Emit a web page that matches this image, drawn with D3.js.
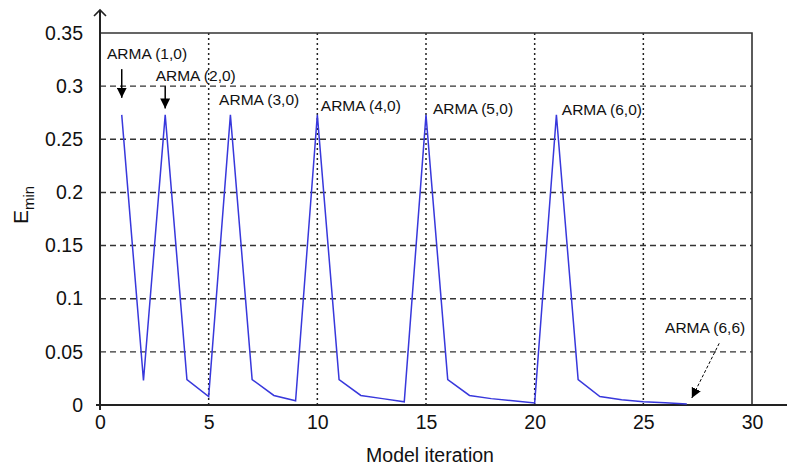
<!DOCTYPE html>
<html>
<head>
<meta charset="utf-8">
<script src="https://cdn.jsdelivr.net/npm/d3@7"></script>
<style>
  body { margin: 0; background: #fff; }
  svg text { font-family: "Liberation Sans", Arial, Helvetica, sans-serif; fill: #111; }
</style>
</head>
<body>
<div id="chart"></div>
<script>
// donnees
const iterations = [1, 2, 3, 4, 5, 6, 7, 8, 9, 10, 11, 12, 13, 14, 15, 16, 17, 18, 19, 20, 21, 22, 23, 24, 25, 26, 27];
const eMin = [0.273, 0.023, 0.273, 0.024, 0.008, 0.273, 0.024, 0.009, 0.004, 0.273, 0.024, 0.009, 0.006, 0.003,
              0.273, 0.024, 0.009, 0.006, 0.004, 0.002, 0.273, 0.024, 0.008, 0.005, 0.003, 0.002, 0.001];

const xTicks = [0, 5, 10, 15, 20, 25, 30];
const yTicks = [0, 0.05, 0.1, 0.15, 0.2, 0.25, 0.3, 0.35];
const yTickLabels = ["0", "0.05", "0.1", "0.15", "0.2", "0.25", "0.3", "0.35"];

// annotations (texte + position en unites du graphique)
const annotLabels = ["ARMA (1,0)", "ARMA (2,0)", "ARMA (3,0)", "ARMA (4,0)", "ARMA (5,0)", "ARMA (6,0)", "ARMA (6,6)"];
const annotX = [0.32, 2.56, 5.48, 10.16, 15.32, 21.25, 26.0];
const annotY = [0.329, 0.3086, 0.2863, 0.2807, 0.2776, 0.2769, 0.0712];
// fleches : depart -> arrivee
const arrowFrom = [[1.0, 0.316], [3.0, 0.300], [28.49, 0.058]];
const arrowTo = [[1.0, 0.289], [3.0, 0.279], [27.23, 0.0066]];

const W = 787, H = 469;
const x0 = 100, x1 = 752, yTop = 33, yBot = 405;

const svg = d3.select("#chart").append("svg")
  .attr("width", W).attr("height", H);

const defs = svg.append("defs");
defs.append("marker")
  .attr("id", "head")
  .attr("viewBox", "0 0 10 10")
  .attr("refX", 10).attr("refY", 5)
  .attr("markerWidth", 10).attr("markerHeight", 10)
  .attr("markerUnits", "userSpaceOnUse")
  .attr("orient", "auto")
  .append("path").attr("d", "M0,0 L10,5 L0,10 Z").attr("fill", "#000");

const x = d3.scaleLinear().domain([0, 30]).range([x0, x1]);
const y = d3.scaleLinear().domain([0, 0.35]).range([yBot, yTop]);

// grille horizontale (tirets)
svg.append("g").selectAll("line")
  .data(yTicks.filter(d => d > 0 && d < 0.35))
  .join("line")
  .attr("x1", x0).attr("x2", x1)
  .attr("y1", d => y(d)).attr("y2", d => y(d))
  .attr("stroke", "#333").attr("stroke-width", 1.4)
  .attr("stroke-dasharray", "6,4");

// grille verticale (pointilles)
svg.append("g").selectAll("line")
  .data(xTicks.filter(d => d > 0 && d < 30))
  .join("line")
  .attr("x1", d => x(d)).attr("x2", d => x(d))
  .attr("y1", yTop).attr("y2", yBot)
  .attr("stroke", "#222").attr("stroke-width", 1.5)
  .attr("stroke-dasharray", "2,3");

// cadre haut + droite
svg.append("path")
  .attr("d", `M${x0},${yTop} H${x1} V${yBot}`)
  .attr("fill", "none").attr("stroke", "#333").attr("stroke-width", 1.6);

// axe x (prolonge a droite)
svg.append("line")
  .attr("x1", x0 - 4).attr("x2", W).attr("y1", yBot).attr("y2", yBot)
  .attr("stroke", "#222").attr("stroke-width", 2);

// axe y avec fleche ouverte
svg.append("line")
  .attr("x1", x0).attr("x2", x0).attr("y1", yBot + 5).attr("y2", 11)
  .attr("stroke", "#222").attr("stroke-width", 2);
svg.append("path")
  .attr("d", `M${x0 - 6},${16} L${x0},${10} L${x0 + 6},${16}`)
  .attr("fill", "none").attr("stroke", "#222").attr("stroke-width", 1.6);

// etiquettes axe y
svg.append("g")
  .attr("transform", `translate(${x0 - 17},0)`)
  .call(d3.axisLeft(y).tickValues(yTicks).tickFormat((d, i) => yTickLabels[i]).tickSize(0))
  .call(g => g.select(".domain").remove())
  .selectAll("text")
  .attr("x", 0)
  .style("font-size", "19.5px")
  .style("font-family", "'Liberation Sans', Arial, sans-serif")
  .attr("fill", "#111");

// etiquettes axe x
svg.append("g")
  .attr("transform", `translate(0,${yBot + 7})`)
  .call(d3.axisBottom(x).tickValues(xTicks).tickFormat(d3.format("d")).tickSize(0))
  .call(g => g.select(".domain").remove())
  .selectAll("text")
  .style("font-size", "19.5px")
  .style("font-family", "'Liberation Sans', Arial, sans-serif")
  .attr("fill", "#111");

// titres des axes
svg.append("text")
  .attr("x", (x0 + x1) / 2 + 4).attr("y", 462)
  .attr("text-anchor", "middle")
  .style("font-size", "19.5px")
  .text("Model iteration");

const yl = svg.append("text")
  .attr("transform", "translate(28,205) rotate(-90)")
  .attr("text-anchor", "middle")
  .style("font-size", "21px");
yl.append("tspan").text("E");
yl.append("tspan").attr("dy", 6).style("font-size", "15px").text("min");

// courbe
const line = d3.line()
  .x((d, i) => x(iterations[i]))
  .y(d => y(d));

svg.append("path")
  .datum(eMin)
  .attr("d", line)
  .attr("fill", "none")
  .attr("stroke", "#3838dc")
  .attr("stroke-width", 1.5);

// annotations
svg.append("g").selectAll("text")
  .data(annotLabels)
  .join("text")
  .attr("x", (d, i) => x(annotX[i]))
  .attr("y", (d, i) => y(annotY[i]))
  .attr("dominant-baseline", "middle")
  .style("font-size", "15.5px")
  .text(d => d);

svg.append("g").selectAll("line")
  .data(arrowFrom)
  .join("line")
  .attr("x1", d => x(d[0])).attr("y1", d => y(d[1]))
  .attr("x2", (d, i) => x(arrowTo[i][0])).attr("y2", (d, i) => y(arrowTo[i][1]))
  .attr("stroke", "#000")
  .attr("stroke-width", (d, i) => i < 2 ? 1.5 : 1)
  .attr("stroke-dasharray", (d, i) => i < 2 ? null : "3,2")
  .attr("marker-end", "url(#head)");
</script>
</body>
</html>
